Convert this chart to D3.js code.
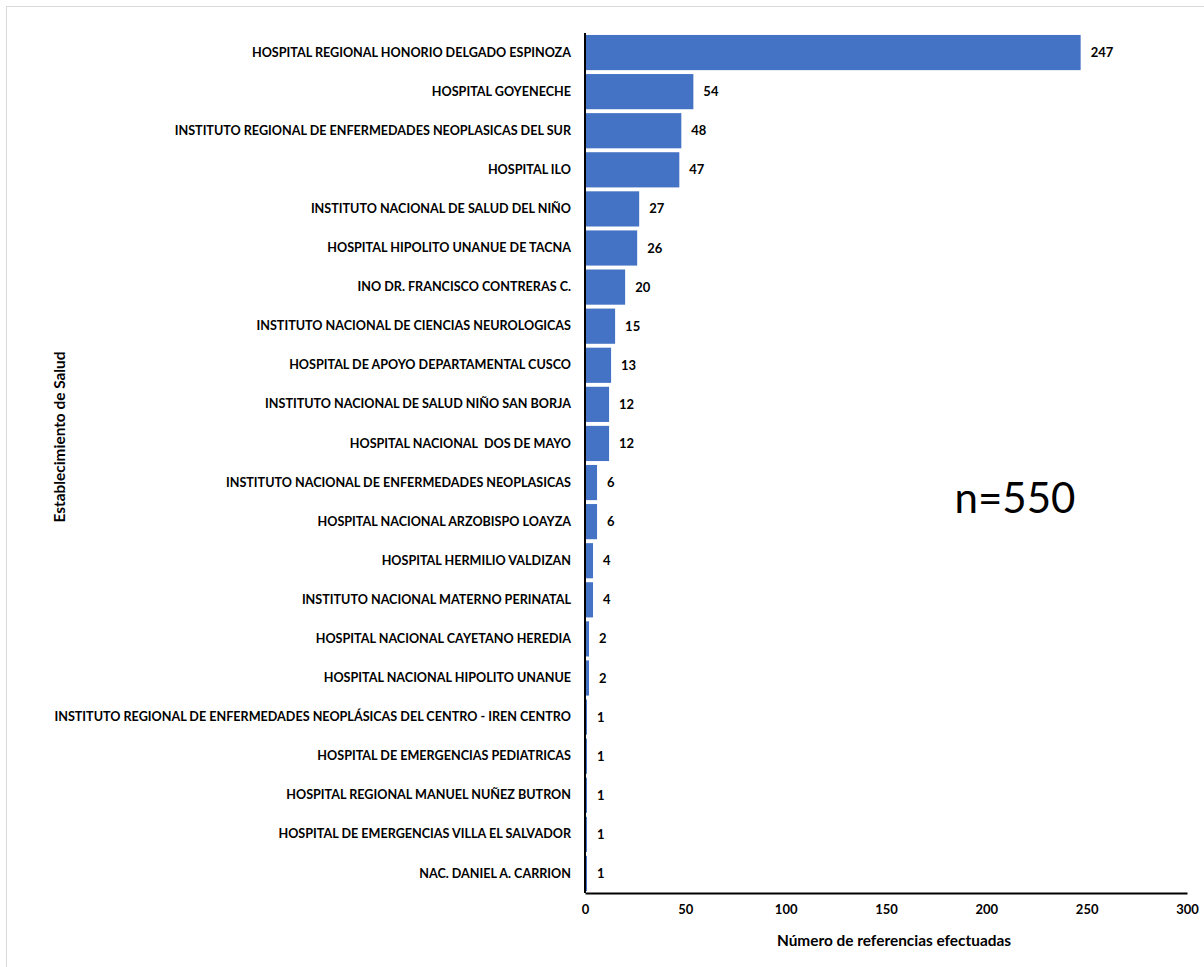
<!DOCTYPE html>
<html>
<head>
<meta charset="UTF-8">
<title>Referencias</title>
<style>
body { margin: 0; background: #fff; }
text { font-family: Lato, "Open Sans", sans-serif; white-space: pre; }
</style>
</head>
<body>
<script src="https://cdn.jsdelivr.net/npm/d3@7"></script>
<script>
var establecimientos = [
  "HOSPITAL REGIONAL HONORIO DELGADO ESPINOZA",
  "HOSPITAL GOYENECHE",
  "INSTITUTO REGIONAL DE ENFERMEDADES NEOPLASICAS DEL SUR",
  "HOSPITAL ILO",
  "INSTITUTO NACIONAL DE SALUD DEL NIÑO",
  "HOSPITAL HIPOLITO UNANUE DE TACNA",
  "INO DR. FRANCISCO CONTRERAS C.",
  "INSTITUTO NACIONAL DE CIENCIAS NEUROLOGICAS",
  "HOSPITAL DE APOYO DEPARTAMENTAL CUSCO",
  "INSTITUTO NACIONAL DE SALUD NIÑO SAN BORJA",
  "HOSPITAL NACIONAL  DOS DE MAYO",
  "INSTITUTO NACIONAL DE ENFERMEDADES NEOPLASICAS",
  "HOSPITAL NACIONAL ARZOBISPO LOAYZA",
  "HOSPITAL HERMILIO VALDIZAN",
  "INSTITUTO NACIONAL MATERNO PERINATAL",
  "HOSPITAL NACIONAL CAYETANO HEREDIA",
  "HOSPITAL NACIONAL HIPOLITO UNANUE",
  "INSTITUTO REGIONAL DE ENFERMEDADES NEOPLÁSICAS DEL CENTRO - IREN CENTRO",
  "HOSPITAL DE EMERGENCIAS PEDIATRICAS",
  "HOSPITAL REGIONAL MANUEL NUÑEZ BUTRON",
  "HOSPITAL DE EMERGENCIAS VILLA EL SALVADOR",
  "NAC. DANIEL A. CARRION"
];
var referencias = [247, 54, 48, 47, 27, 26, 20, 15, 13, 12, 12, 6, 6, 4, 4, 2, 2, 1, 1, 1, 1, 1];
var xTicks = [0, 50, 100, 150, 200, 250, 300];

var width = 1204, height = 967;
var mLeft = 585, mRight = 1187, mTop = 33, mBottom = 893;

var svg = d3.select("body").append("svg")
  .attr("width", width)
  .attr("height", height);

// marco del grafico
svg.append("rect")
  .attr("x", 6.5).attr("y", 6.5)
  .attr("width", width + 10).attr("height", height + 10)
  .attr("fill", "#fff")
  .attr("stroke", "#d9d9d9");

var x = d3.scaleLinear().domain([0, 300]).range([mLeft, mRight]);
var y = d3.scaleBand().domain(establecimientos).range([mTop, mBottom]).paddingInner(0.1).paddingOuter(0.05);

svg.selectAll("rect.bar")
  .data(establecimientos)
  .enter().append("rect")
  .attr("class", "bar")
  .attr("x", x(0))
  .attr("y", function(d){ return y(d); })
  .attr("width", function(d, i){ return x(referencias[i]) - x(0); })
  .attr("height", y.bandwidth())
  .attr("fill", "#4472c4");

svg.selectAll("text.val")
  .data(establecimientos)
  .enter().append("text")
  .attr("class", "val")
  .attr("x", function(d, i){ return x(referencias[i]) + 10; })
  .attr("y", function(d){ return y(d) + y.bandwidth() / 2; })
  .attr("dy", "0.35em")
  .attr("font-size", 13)
  .attr("font-weight", "bold")
  .text(function(d, i){ return referencias[i]; });

// eje y
var yAxis = svg.append("g")
  .attr("transform", "translate(" + mLeft + ",0)")
  .call(d3.axisLeft(y).tickSize(0).tickPadding(14));
yAxis.select(".domain").attr("stroke", "#000").attr("stroke-width", 2)
  .attr("d", "M0," + mTop + "V" + mBottom);
yAxis.selectAll("text")
  .attr("font-family", "Lato, sans-serif")
  .attr("font-size", 12.6)
  .attr("font-weight", "bold")
  .attr("fill", "#000");

// eje x
var xAxis = svg.append("g")
  .attr("transform", "translate(0," + mBottom + ")")
  .call(d3.axisBottom(x).tickValues(xTicks).tickSize(0).tickPadding(12));
xAxis.select(".domain").attr("stroke", "#000").attr("stroke-width", 2);
xAxis.selectAll("text")
  .attr("font-family", "Lato, sans-serif")
  .attr("font-size", 13)
  .attr("font-weight", "bold")
  .attr("fill", "#000");

svg.append("text")
  .attr("x", 894)
  .attr("y", 946)
  .attr("text-anchor", "middle")
  .attr("font-size", 15.4)
  .attr("font-weight", "bold")
  .text("Número de referencias efectuadas");

svg.append("text")
  .attr("transform", "translate(65," + 437 + ") rotate(-90)")
  .attr("text-anchor", "middle")
  .attr("font-size", 15.4)
  .attr("font-weight", "bold")
  .text("Establecimiento de Salud");

svg.append("text")
  .attr("x", 1015)
  .attr("y", 513)
  .attr("text-anchor", "middle")
  .attr("font-size", 42)
  .text("n=550");
</script>
</body>
</html>
